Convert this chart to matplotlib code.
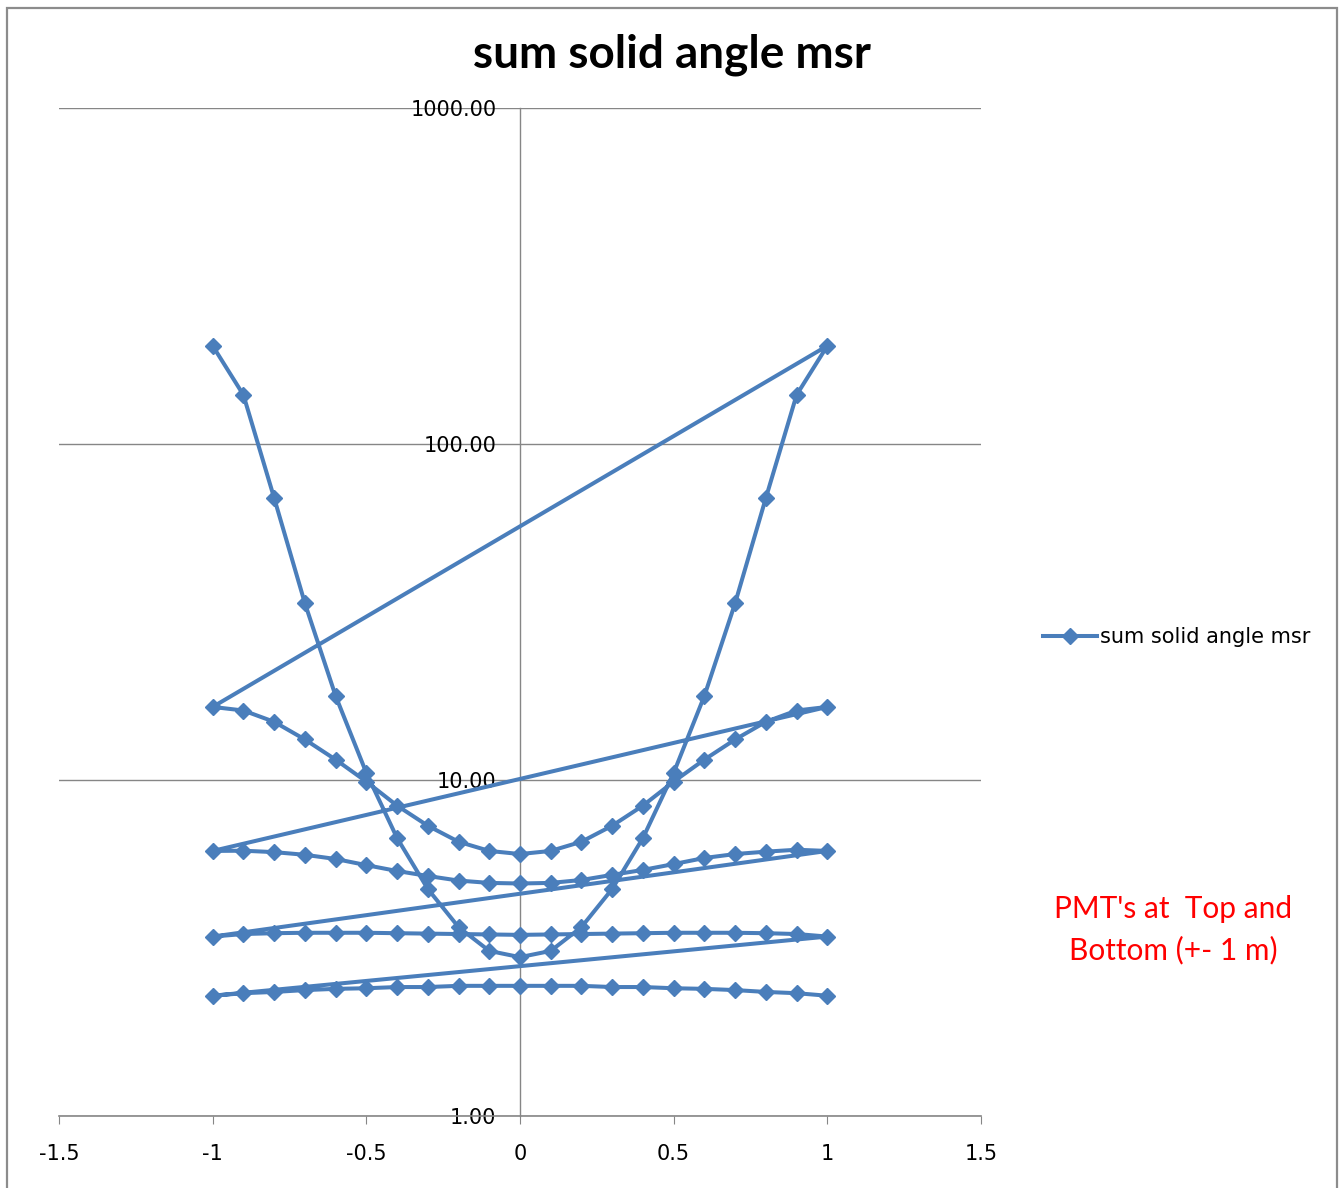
import matplotlib
matplotlib.use("Agg")
import matplotlib.pyplot as plt
from matplotlib.ticker import NullLocator
from matplotlib.patches import Rectangle

# posicoes ao longo do eixo (m) e as cinco varreduras, concatenadas numa unica serie
x_pos = [-1.0, -0.9, -0.8, -0.7, -0.6, -0.5, -0.4, -0.3, -0.2, -0.1, 0.0,
         0.1, 0.2, 0.3, 0.4, 0.5, 0.6, 0.7, 0.8, 0.9, 1.0]

sweep_a = [196, 140, 69.1, 33.6, 17.8, 10.5, 6.72, 4.74, 3.65, 3.10, 2.97,
           3.10, 3.65, 4.74, 6.72, 10.5, 17.8, 33.6, 69.1, 140, 196]
sweep_b = [16.5, 16.1, 14.9, 13.2, 11.5, 9.89, 8.39, 7.31, 6.55, 6.15, 6.02,
           6.15, 6.55, 7.31, 8.39, 9.89, 11.5, 13.2, 14.9, 16.1, 16.5]
sweep_c = [6.15, 6.16, 6.10, 5.99, 5.82, 5.58, 5.36, 5.18, 5.02, 4.94, 4.92,
           4.94, 5.04, 5.22, 5.40, 5.62, 5.86, 6.02, 6.12, 6.20, 6.15]
sweep_d = [3.42, 3.48, 3.50, 3.51, 3.51, 3.51, 3.50, 3.49, 3.48, 3.47, 3.46,
           3.47, 3.48, 3.49, 3.50, 3.51, 3.51, 3.51, 3.50, 3.48, 3.42]
sweep_e = [2.28, 2.32, 2.34, 2.37, 2.39, 2.40, 2.42, 2.42, 2.44, 2.44, 2.44,
           2.44, 2.44, 2.42, 2.42, 2.40, 2.39, 2.37, 2.34, 2.32, 2.28]

x_ticks = [-1.5, -1, -0.5, 0, 0.5, 1, 1.5]
x_tick_labels = ["-1.5", "-1", "-0.5", "0", "0.5", "1", "1.5"]
y_ticks = [1, 10, 100, 1000]
y_tick_labels = ["1.00", "10.00", "100.00", "1000.00"]

serie_x = x_pos * 5
serie_y = sweep_a + sweep_b + sweep_c + sweep_d + sweep_e

azul = "#4a7ebb"
cinza = "#868686"

plt.rcParams["font.family"] = ["DejaVu Sans"]

fig = plt.figure(figsize=(13.43, 11.88), dpi=100)
ax = fig.add_axes([59 / 1343, 1 - 1116 / 1188, 922 / 1343, 1008 / 1188])

ax.plot(serie_x, serie_y, color=azul, lw=2.9, marker="D", markersize=8.5,
        label="sum solid angle msr", zorder=3)

ax.set_yscale("log")
ax.set_xlim(-1.5, 1.5)
ax.set_ylim(1, 1000)
ax.yaxis.set_minor_locator(NullLocator())
ax.set_yticks(y_ticks)
ax.set_yticklabels(y_tick_labels)
ax.set_xticks(x_ticks)
ax.set_xticklabels(x_tick_labels)

ax.spines["top"].set_visible(False)
ax.spines["right"].set_visible(False)
ax.spines["left"].set_position(("data", 0))
ax.spines["left"].set_color(cinza)
ax.spines["bottom"].set_color(cinza)
ax.spines["left"].set_linewidth(1)
ax.spines["bottom"].set_linewidth(1.2)

ax.tick_params(axis="y", which="both", length=0, pad=17, labelsize=15)
ax.tick_params(axis="x", length=6, color=cinza, pad=14, labelsize=15)
ax.yaxis.grid(True, color=cinza, lw=1)
ax.set_axisbelow(True)

# TITULO E TEXTO EM VERMELHO
fig.text(0.5, 1 - 55 / 1188, "sum solid angle msr", ha="center", va="center",
         fontsize=33, fontweight="bold", family=["Lato", "DejaVu Sans"])
fig.text(1173 / 1343, 1 - 930 / 1188, "PMT's at  Top and\nBottom (+- 1 m)",
         ha="center", va="center", color="red", fontsize=21.5, linespacing=1.55,
         family=["Lato", "DejaVu Sans"])

fig.legend(loc="center left", bbox_to_anchor=(1024 / 1343, 1 - 637 / 1188),
           frameon=False, prop={"family": "DejaVu Sans", "size": 15},
           handlelength=2.6, handletextpad=0.15)

# MOLDURA DA FIGURA
fig.patches.append(Rectangle((7 / 1343, -0.01), 1330 / 1343, 1.01 - 8 / 1188,
                             transform=fig.transFigure, fill=False,
                             edgecolor="#8c8c8c", lw=1.6))

plt.savefig("out.png", dpi=100)
plt.close()
